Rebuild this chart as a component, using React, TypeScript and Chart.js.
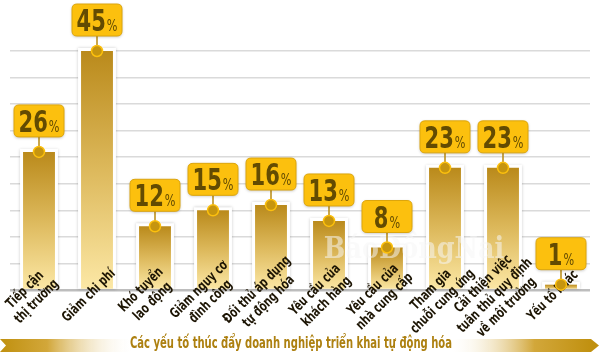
import React, { useEffect, useRef } from "react";
import { Chart, registerables } from "chart.js";

Chart.register(...registerables);

const categories: string[][] = [
  ["Tiếp cận", "thị trường"],
  ["Giảm chi phí"],
  ["Khó tuyển", "lao động"],
  ["Giảm nguy cơ", "đình công"],
  ["Đối thủ áp dụng", "tự động hóa"],
  ["Yêu cầu của", "khách hàng"],
  ["Yêu cầu của", "nhà cung cấp"],
  ["Tham gia", "chuỗi cung ứng"],
  ["Cải thiện việc", "tuân thủ quy định", "về môi trường"],
  ["Yếu tố khác"],
];
const values: number[] = [26, 45, 12, 15, 16, 13, 8, 23, 23, 1];
const valueSuffix = "%";
const yMax = 45;
const yStep = 5;
const title = "Các yếu tố thúc đẩy doanh nghiệp triển khai tự động hóa";
const watermark = "BáoĐồngNai";

const COND = "'Liberation Sans Narrow', 'DejaVu Sans Condensed', 'Roboto Condensed', 'Noto Sans', sans-serif";
const SQUEEZE = 0.78;

const glowPlugin = {
  id: "glow",
  beforeDatasetsDraw(chart: any) {
    const ctx = chart.ctx;
    const meta = chart.getDatasetMeta(0);
    ctx.save();
    meta.data.forEach((bar: any) => {
      const { x, y, base, width } = bar.getProps(["x", "y", "base", "width"], true);
      ctx.shadowColor = "rgba(0,0,0,0.2)";
      ctx.shadowBlur = 3;
      ctx.fillStyle = "#ffffff";
      ctx.fillRect(x - width / 2 - 3, y - 3, width + 6, base - y + 3);
    });
    ctx.restore();
  },
};

function roundRect(ctx: CanvasRenderingContext2D, x: number, y: number, w: number, h: number, r: number) {
  ctx.beginPath();
  ctx.moveTo(x + r, y);
  ctx.lineTo(x + w - r, y);
  ctx.quadraticCurveTo(x + w, y, x + w, y + r);
  ctx.lineTo(x + w, y + h - r);
  ctx.quadraticCurveTo(x + w, y + h, x + w - r, y + h);
  ctx.lineTo(x + r, y + h);
  ctx.quadraticCurveTo(x, y + h, x, y + h - r);
  ctx.lineTo(x, y + r);
  ctx.quadraticCurveTo(x, y, x + r, y);
  ctx.closePath();
}

const decorPlugin = {
  id: "decor",
  afterDatasetsDraw(chart: any) {
    const ctx: CanvasRenderingContext2D = chart.ctx;
    const meta = chart.getDatasetMeta(0);
    ctx.save();
    // watermark
    ctx.save();
    ctx.translate(414, 250);
    ctx.scale(0.85, 1);
    ctx.font = `bold 30px 'DejaVu Serif', serif`;
    ctx.fillStyle = "rgba(245,245,245,0.55)";
    ctx.textAlign = "center";
    ctx.textBaseline = "middle";
    ctx.fillText(watermark, 0, 0);
    ctx.restore();

    meta.data.forEach((bar: any, i: number) => {
      const { x, y, base } = bar.getProps(["x", "y", "base"], true);
      // category label
      const lines = categories[i];
      const lh = 16.5;
      ctx.save();
      ctx.translate(x - 8, base + 7);
      ctx.rotate(-Math.PI / 4);
      ctx.scale(SQUEEZE, 1);
      ctx.font = `bold 14px ${COND}`;
      ctx.fillStyle = "#1c1403";
      ctx.textAlign = "center";
      ctx.textBaseline = "middle";
      lines.forEach((ln, j) => {
        ctx.fillText(ln, 0, (j - (lines.length - 1) / 2) * lh);
      });
      ctx.restore();

      // callout
      const bw = 50, bh = 32, gap = 15;
      const bx = x - bw / 2, by = y - gap - bh;
      ctx.strokeStyle = "#B88A10";
      ctx.lineWidth = 1.5;
      ctx.beginPath();
      ctx.moveTo(x, by + bh);
      ctx.lineTo(x, y);
      ctx.stroke();

      ctx.save();
      ctx.shadowColor = "rgba(0,0,0,0.25)";
      ctx.shadowBlur = 3;
      ctx.shadowOffsetY = 1;
      roundRect(ctx, bx, by, bw, bh, 5);
      ctx.fillStyle = "#FCC00E";
      ctx.fill();
      ctx.restore();
      roundRect(ctx, bx, by, bw, bh, 5);
      ctx.strokeStyle = "#DCA50C";
      ctx.lineWidth = 1;
      ctx.stroke();

      const num = String(values[i]);
      ctx.font = `bold 30px ${COND}`;
      const w1 = ctx.measureText(num).width * SQUEEZE;
      ctx.font = `16px ${COND}`;
      const w2 = ctx.measureText(valueSuffix).width * SQUEEZE;
      const sx = x - (w1 + w2 + 1) / 2;
      ctx.save();
      ctx.translate(sx, by + bh / 2 + 11);
      ctx.scale(SQUEEZE, 1);
      ctx.textAlign = "left";
      ctx.textBaseline = "alphabetic";
      ctx.fillStyle = "#634B02";
      ctx.font = `bold 30px ${COND}`;
      ctx.fillText(num, 0, 0);
      ctx.font = `16px ${COND}`;
      ctx.fillText(valueSuffix, (w1 + 1) / SQUEEZE, 0);
      ctx.restore();

      // dot
      ctx.beginPath();
      ctx.arc(x, y, 5.5, 0, Math.PI * 2);
      ctx.fillStyle = "#C6950F";
      ctx.fill();
      ctx.strokeStyle = "#FCC00E";
      ctx.lineWidth = 1.5;
      ctx.stroke();
    });
    ctx.restore();
  },
  afterDraw(chart: any) {
    const ctx: CanvasRenderingContext2D = chart.ctx;
    ctx.save();
    const top = 339, bot = 352, mid = (top + bot) / 2;
    const gl = ctx.createLinearGradient(0, 0, 135, 0);
    gl.addColorStop(0, "#C0900F");
    gl.addColorStop(0.35, "#D2A73A");
    gl.addColorStop(1, "rgba(255,255,255,0)");
    ctx.fillStyle = gl;
    ctx.beginPath();
    ctx.moveTo(0, top);
    ctx.lineTo(135, top);
    ctx.lineTo(135, bot);
    ctx.lineTo(0, bot);
    ctx.lineTo(6, mid);
    ctx.closePath();
    ctx.fill();

    const gr = ctx.createLinearGradient(448, 0, 592, 0);
    gr.addColorStop(0, "rgba(255,255,255,0)");
    gr.addColorStop(0.6, "#D2A73A");
    gr.addColorStop(1, "#C0900F");
    ctx.fillStyle = gr;
    ctx.beginPath();
    ctx.moveTo(448, top);
    ctx.lineTo(591, top);
    ctx.lineTo(599, mid);
    ctx.lineTo(591, bot);
    ctx.lineTo(448, bot);
    ctx.closePath();
    ctx.fill();

    ctx.font = `bold 16px ${COND}`;
    const tw = ctx.measureText(title).width;
    const targetW = 322;
    ctx.translate(291, 344);
    ctx.scale(Math.min(1, targetW / tw), 1);
    ctx.fillStyle = "#AD8010";
    ctx.textAlign = "center";
    ctx.textBaseline = "middle";
    ctx.fillText(title, 0, 0);
    ctx.restore();
  },
};

export default function App() {
  const ref = useRef<HTMLCanvasElement | null>(null);
  useEffect(() => {
    document.body.style.margin = "0";
    if (!ref.current) return;
    const chart = new Chart(ref.current, {
      type: "bar",
      data: {
        labels: categories.map((c) => c.join(" ")),
        datasets: [
          {
            data: values,
            backgroundColor: (c: any) => {
              const ch = c.chart;
              if (!ch.chartArea || c.type !== "data") return "#D4A838";
              const ys = ch.scales.y;
              const t = ys.getPixelForValue(values[c.dataIndex]);
              const b = ys.getPixelForValue(0);
              const g = ch.ctx.createLinearGradient(0, t, 0, b);
              g.addColorStop(0, "#BA8A1B");
              g.addColorStop(0.5, "#DDB95C");
              g.addColorStop(1, "#FCE8A6");
              return g;
            },
            borderWidth: 0,
            categoryPercentage: 1,
            barPercentage: 0.55,
          },
        ],
      },
      options: {
        animation: false,
        responsive: false,
        maintainAspectRatio: false,
        layout: { padding: { left: 10, right: 10, top: 51, bottom: 64 } },
        plugins: { legend: { display: false }, tooltip: { enabled: false }, title: { display: false } },
        scales: {
          x: { display: false },
          y: {
            min: 0,
            max: yMax,
            ticks: { display: false, stepSize: yStep },
            border: { display: false },
            grid: {
              drawTicks: false,
              color: (c: any) => (c.tick && c.tick.value === 0 ? "#bdbdbd" : "#dadada"),
              lineWidth: (c: any) => (c.tick && c.tick.value === 0 ? 2.5 : 1.5),
            },
          },
        },
      },
      plugins: [glowPlugin, decorPlugin],
    });
    return () => chart.destroy();
  }, []);
  return (
    <div style={{ position: "absolute", left: 0, top: 0, width: 600, height: 354, background: "#fff" }}>
      <canvas ref={ref} width={600} height={354} style={{ width: 600, height: 354, display: "block" }} />
    </div>
  );
}
